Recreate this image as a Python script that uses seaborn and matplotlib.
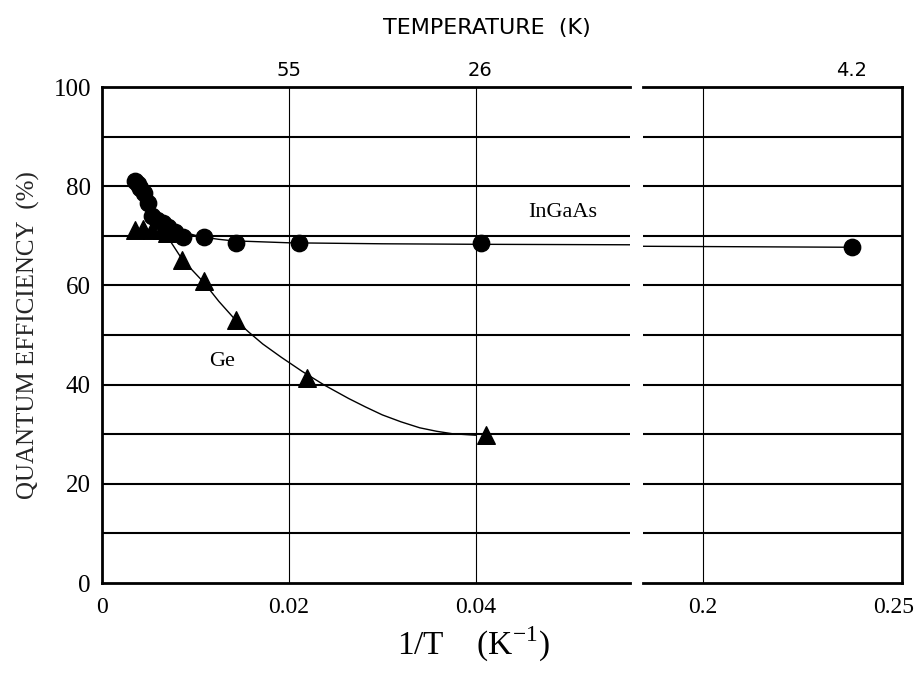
import numpy as np
import pandas as pd
import seaborn as sns
import matplotlib.pyplot as plt
import matplotlib.transforms as mtransforms

# data
ingaas_x = [0.0035, 0.0038, 0.0041, 0.0045, 0.0049, 0.0053, 0.0059, 0.0065, 0.0071,
            0.0078, 0.0087, 0.0109, 0.0143, 0.0211, 0.0406, 0.2374]
ingaas_y = [81.0, 80.4, 79.6, 78.6, 76.6, 74.0, 73.2, 72.6, 71.8,
            70.8, 69.8, 69.8, 68.5, 68.5, 68.5, 67.7]

ge_x = [0.0035, 0.0044, 0.0054, 0.0064, 0.0070, 0.0086, 0.0109, 0.0143, 0.0219, 0.0411]
ge_y = [71.2, 71.4, 71.2, 71.2, 70.6, 65.1, 60.9, 53.0, 41.3, 29.8]

# hand-drawn fit curves
ingaas_fit_x = [0.0045, 0.0050, 0.0055, 0.0060, 0.0067, 0.0075, 0.0083, 0.0090, 0.0100,
                0.0110, 0.0125, 0.0140, 0.0170, 0.0200, 0.0300, 0.0400, 0.0565]
ingaas_fit_y = [78.3, 76.5, 75.1, 74.0, 72.9, 72.0, 71.2, 70.6, 70.1,
                69.7, 69.3, 69.0, 68.8, 68.6, 68.4, 68.3, 68.2]
ingaas_fit2_x = [0.185, 0.2374]
ingaas_fit2_y = [67.9, 67.7]

ge_fit_x = [0.0068, 0.0077, 0.0086, 0.0097, 0.0109, 0.0125, 0.0143, 0.0157, 0.0172, 0.0192,
            0.0214, 0.0238, 0.0264, 0.0282, 0.0300, 0.0320, 0.0340, 0.0358, 0.0375, 0.0400]
ge_fit_y = [70.4, 67.8, 65.2, 63.0, 60.6, 56.8, 53.0, 50.6, 48.2, 45.5,
            42.7, 39.9, 37.2, 35.5, 33.9, 32.5, 31.3, 30.6, 30.1, 29.8]

temp_labels = ['55', '26', '4.2']
temp_pos = [0.0200, 0.0405, 0.2374]

sns.set_style('white')
plt.rcParams['font.family'] = ['Liberation Serif', 'DejaVu Serif']
plt.rcParams['mathtext.fontset'] = 'custom'
plt.rcParams['mathtext.rm'] = 'Liberation Serif'
plt.rcParams['text.color'] = 'black'

fig = plt.figure(figsize=(9.19, 6.77), dpi=100)
ax1 = fig.add_axes([0.111, 0.1388, 0.5745, 0.7326])
ax2 = fig.add_axes([0.6997, 0.1388, 0.2818, 0.7326], sharey=ax1)

ing = pd.DataFrame({'x': ingaas_x, 'y': ingaas_y})
ge = pd.DataFrame({'x': ge_x, 'y': ge_y})

for ax in (ax1, ax2):
    # horizontal grid lines
    for yv in range(10, 100, 10):
        ax.axhline(yv, color='black', lw=1.5, zorder=1)
    sns.lineplot(x=ingaas_fit_x, y=ingaas_fit_y, ax=ax, color='black', lw=1.0, sort=False, zorder=2)
    sns.lineplot(x=ingaas_fit2_x, y=ingaas_fit2_y, ax=ax, color='black', lw=1.0, sort=False, zorder=2)
    sns.lineplot(x=ge_fit_x, y=ge_fit_y, ax=ax, color='black', lw=1.0, sort=False, zorder=2)
    sns.scatterplot(data=ing, x='x', y='y', ax=ax, marker='o', s=140, color='black',
                    edgecolor='black', zorder=3)
    sns.scatterplot(data=ge, x='x', y='y', ax=ax, marker='^', s=160, color='black',
                    edgecolor='black', zorder=3)
    ax.set_ylim(0, 100)
    ax.set_xlabel('')
    ax.set_ylabel('')
    for s in ax.spines.values():
        s.set_linewidth(2)
        s.set_color('black')
    ax.tick_params(axis='both', which='both', direction='in', labelsize=17, length=6,
                   width=1.2, colors='black')

# left panel
ax1.set_xlim(0, 0.0565)
ax1.set_xticks([0, 0.02, 0.04])
ax1.set_xticklabels(['0', '0.02', '0.04'], family=['Liberation Serif'])
ax1.set_xticks([0.01, 0.03, 0.05], minor=True)
ax1.tick_params(axis='x', which='major', length=0, pad=10)
ax1.set_yticks(range(0, 101, 20))
ax1.tick_params(axis='y', length=0, pad=8, labelsize=18)
for xv in [0.02, 0.04]:
    ax1.axvline(xv, color='black', lw=0.8, zorder=1)
ax1.spines['right'].set_visible(False)

# right panel
ax2.set_xlim(0.185, 0.25)
ax2.set_xticks([0.2, 0.25])
ax2.set_xticklabels(['0.2', '0.25'], family=['Liberation Serif'])
ax2.set_xticks([0.225], minor=True)
ax2.tick_params(axis='x', which='major', length=0, pad=10)
ax2.axvline(0.2, color='black', lw=0.8, zorder=1)
ax2.spines['left'].set_visible(False)
ax2.tick_params(axis='y', left=False, labelleft=False)
# keep the last label inside the figure
last = ax2.get_xticklabels()[-1]
last.set_transform(last.get_transform() + mtransforms.ScaledTranslation(-6 / 72, 0, fig.dpi_scale_trans))

# annotations
ax1.text(0.0493, 74.8, 'InGaAs', fontsize=16, ha='center', va='center')
ax1.text(0.0129, 44.6, 'Ge', fontsize=16, ha='center', va='center')

ax1.set_ylabel('QUANTUM EFFICIENCY  (%)', fontsize=18, labelpad=10)
fig.text(0.515, 0.048, '1/T    (K$^{\\mathrm{-1}}$)', fontsize=24, ha='center', va='center')

# top temperature scale
cond = ['Liberation Sans Narrow', 'DejaVu Sans']
fig.text(0.53, 0.958, 'TEMPERATURE  (K)', fontsize=16, ha='center', va='center', family=cond)
for lab, xp in zip(temp_labels[:2], temp_pos[:2]):
    ax1.text(xp, 101.5, lab, fontsize=14, ha='center', va='bottom', family=cond)
ax2.text(temp_pos[2], 101.5, temp_labels[2], fontsize=14, ha='center', va='bottom', family=cond)

plt.savefig('out.png', dpi=100)
